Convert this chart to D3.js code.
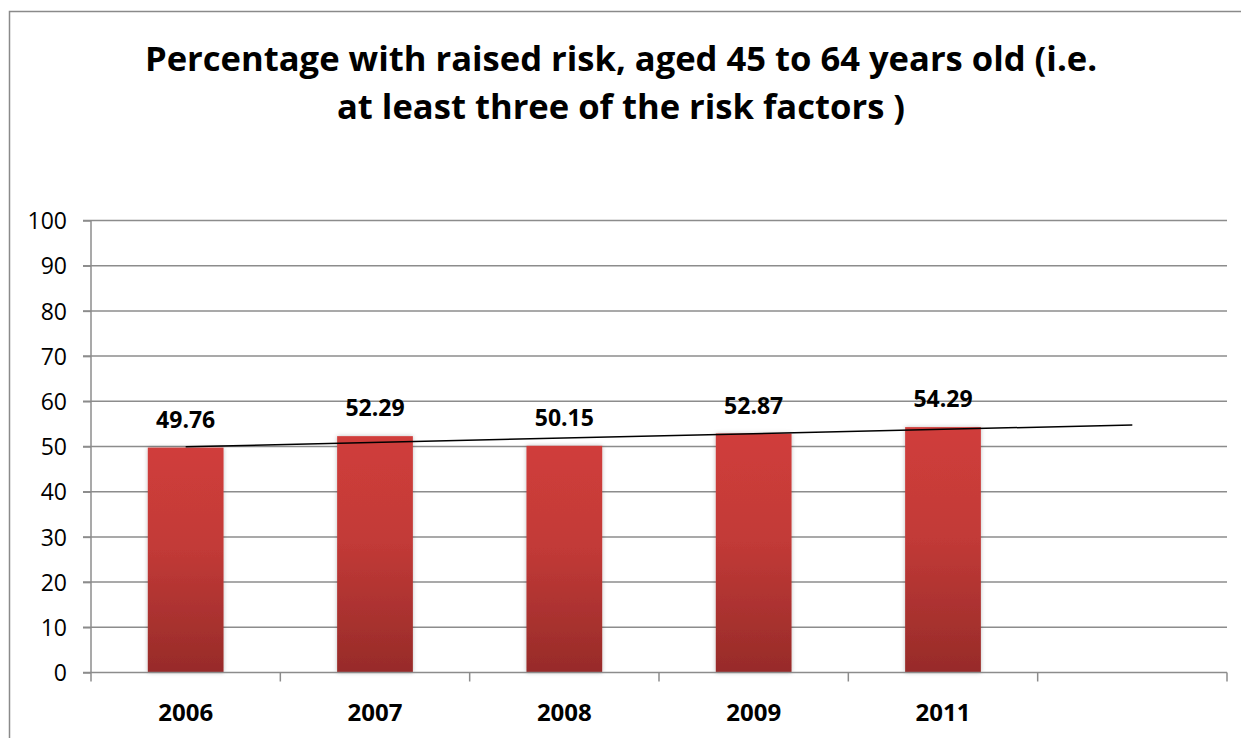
<!DOCTYPE html>
<html><head><meta charset="utf-8">
<script src="https://cdn.jsdelivr.net/npm/d3@7"></script>
<style>body{margin:0;background:#fff}svg{display:block}</style>
</head><body>
<svg id="c" width="1241" height="738"></svg>
<script>
const categories = ["2006","2007","2008","2009","2011",""];
const values = [49.76, 52.29, 50.15, 52.87, 54.29];
const valueLabels = ["49.76","52.29","50.15","52.87","54.29"];
const yTicks = [0,10,20,30,40,50,60,70,80,90,100];
const titleLines = ["Percentage with raised risk, aged 45 to 64 years old (i.e.", "at least three of the risk factors )"];

const svg = d3.select("#c");
const font = "'Open Sans', 'Noto Sans', sans-serif";
const L = 91, R = 1227, T = 220.5, B = 672.5;

const x = d3.scaleBand().domain(categories.map((c,i)=>i)).range([L,R]).paddingInner(0).paddingOuter(0);
const y = d3.scaleLinear().domain([0,100]).range([B,T]);

const defs = svg.append("defs");
const g = defs.append("linearGradient").attr("id","bar").attr("x1",0).attr("y1",0).attr("x2",0).attr("y2",1);
g.append("stop").attr("offset","0%").attr("stop-color","#d03d3b");
g.append("stop").attr("offset","45%").attr("stop-color","#c23a37");
g.append("stop").attr("offset","100%").attr("stop-color","#972b29");
const f = defs.append("filter").attr("id","sh").attr("x","-20%").attr("y","-5%").attr("width","140%").attr("height","110%");
f.append("feDropShadow").attr("dx",0).attr("dy",0).attr("stdDeviation",2).attr("flood-color","#000").attr("flood-opacity",0.25);

// frame
svg.append("path").attr("d",`M9.5,738 V11.5 H1241`).attr("fill","none").attr("stroke","#8a8a8a").attr("stroke-width",1.5);

// title
svg.append("g").selectAll("text").data(titleLines).join("text")
  .attr("x",621).attr("y",(d,i)=>71+i*48).attr("text-anchor","middle")
  .attr("font-family",font).attr("font-weight","bold").attr("font-size",34.6).attr("fill","#000")
  .text(d=>d);

// gridlines
svg.append("g").selectAll("line").data(yTicks.filter(t=>t>0)).join("line")
  .attr("x1",L-8).attr("x2",R).attr("y1",d=>y(d)).attr("y2",d=>y(d))
  .attr("stroke","#8c8c8c").attr("stroke-width",1.5);

// y axis
const ya = svg.append("g").attr("transform",`translate(${L},0)`)
  .call(d3.axisLeft(y).tickValues(yTicks).tickSize(8).tickPadding(16));
ya.select(".domain").attr("stroke","#8c8c8c").attr("stroke-width",1.5).attr("d",`M0,${T}V${B}`);
ya.selectAll(".tick line").attr("stroke","#8c8c8c").attr("stroke-width",1.5);
ya.selectAll(".tick text").attr("font-family",font).attr("font-size",23).attr("fill","#000").attr("dy","0.36em");

// bars
const bw = x.bandwidth()*0.4;
svg.append("g").selectAll("rect").data(values).join("rect")
  .attr("x",(d,i)=>x(i)+x.bandwidth()/2-bw/2).attr("width",bw)
  .attr("y",d=>y(d)).attr("height",d=>B-y(d))
  .attr("fill","url(#bar)").attr("filter","url(#sh)");

// x axis
const xa = svg.append("g").attr("transform",`translate(0,${B})`);
xa.append("line").attr("x1",L-8).attr("x2",R).attr("stroke","#8c8c8c").attr("stroke-width",1.5);
xa.selectAll("line.t").data(d3.range(categories.length+1)).join("line").attr("class","t")
  .attr("x1",i=>L+i*x.bandwidth()).attr("x2",i=>L+i*x.bandwidth()).attr("y1",0).attr("y2",9)
  .attr("stroke","#8c8c8c").attr("stroke-width",1.5);
xa.selectAll("text").data(categories).join("text")
  .attr("x",(d,i)=>x(i)+x.bandwidth()/2).attr("y",48).attr("text-anchor","middle")
  .attr("font-family",font).attr("font-weight","bold").attr("font-size",24).attr("fill","#000")
  .text(d=>d);

// trendline (least squares over the series)
const n = values.length;
const xs = d3.range(n).map(i=>i+1);
const mx = d3.mean(xs), my = d3.mean(values);
const slope = d3.sum(xs.map((xi,i)=>(xi-mx)*(values[i]-my)))/d3.sum(xs.map(xi=>(xi-mx)**2));
const icpt = my - slope*mx;
const tx = i => x(i)+x.bandwidth()/2;
svg.append("line")
  .attr("x1",tx(0)).attr("y1",y(icpt+slope*1))
  .attr("x2",tx(categories.length-1)).attr("y2",y(icpt+slope*categories.length))
  .attr("stroke","#000").attr("stroke-width",1.5);

// value labels
svg.append("g").selectAll("text").data(values).join("text")
  .attr("x",(d,i)=>tx(i)).attr("y",d=>y(d)-20).attr("text-anchor","middle")
  .attr("font-family",font).attr("font-weight","bold").attr("font-size",23).attr("fill","#000")
  .text((d,i)=>valueLabels[i]);
</script>
</body></html>
